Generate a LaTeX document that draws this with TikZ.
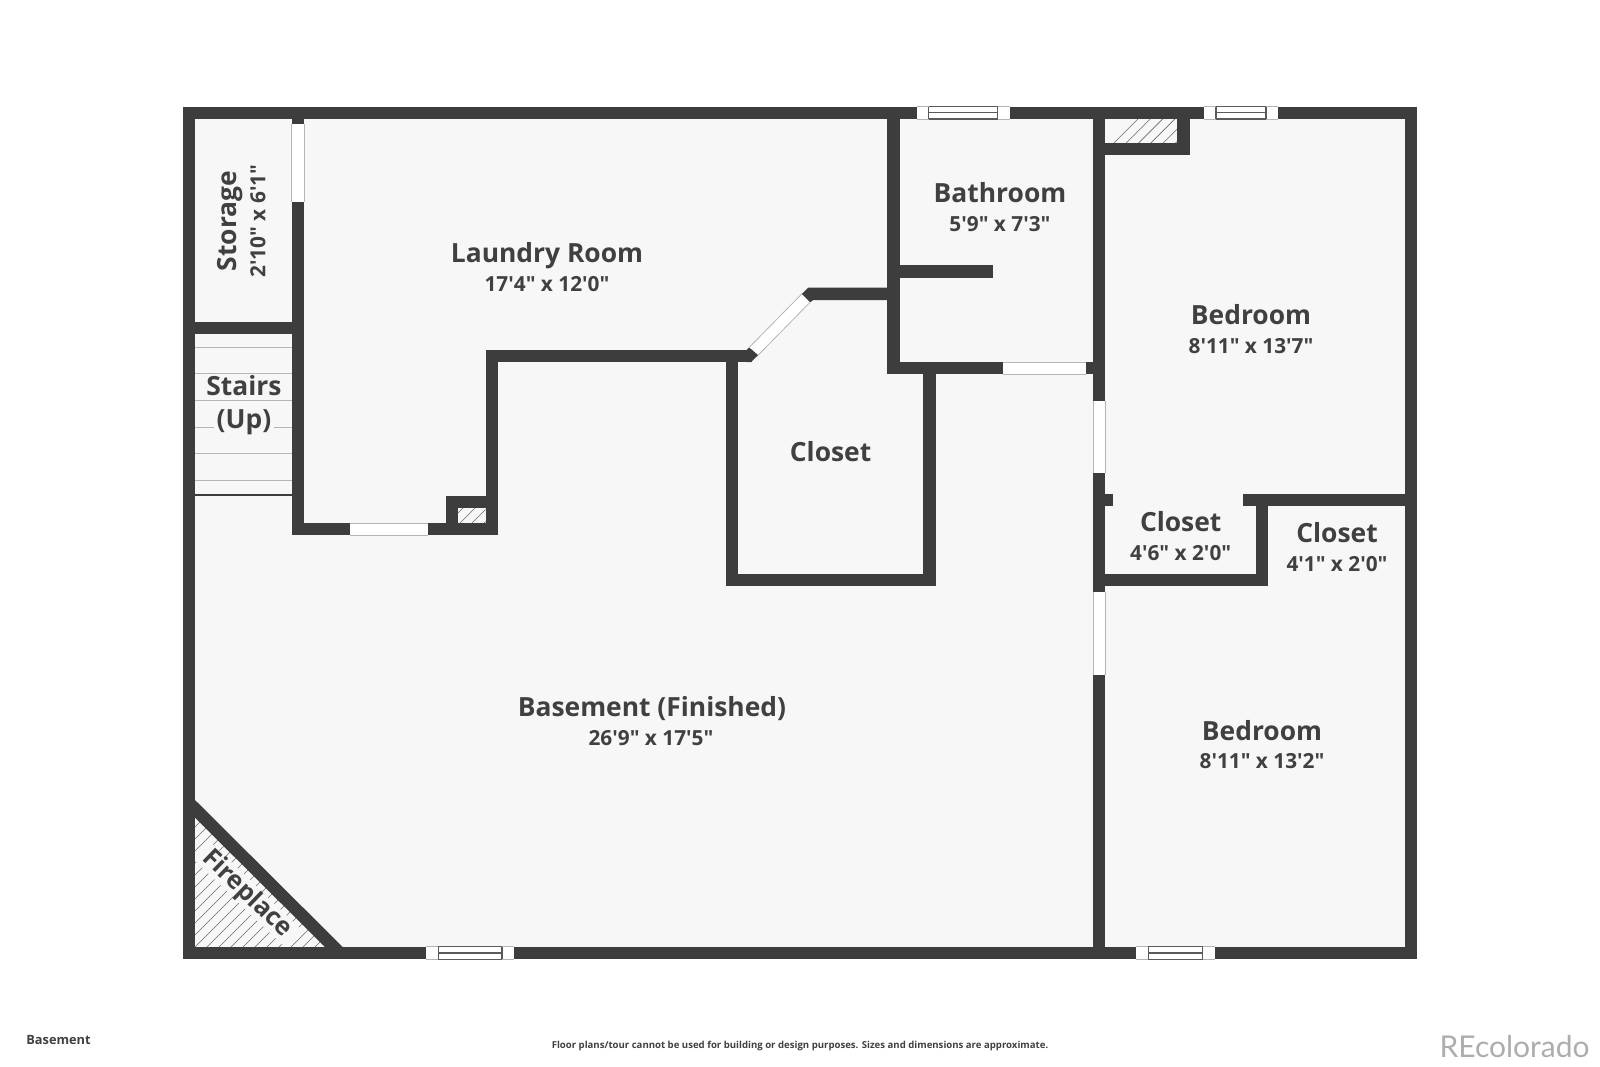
\documentclass[tikz,border=0pt]{standalone}
\usepackage{fontspec}
\newfontfamily\ofont{Open Sans}
\newfontfamily\lfont{Lato}
\definecolor{wallc}{HTML}{3D3D3D}
\definecolor{floorc}{HTML}{F7F7F7}
\definecolor{textc}{HTML}{404040}
\definecolor{edgec}{HTML}{B5B5B5}
\definecolor{hatchc}{HTML}{6A6A6A}
\tikzset{
  roomname/.style={text=textc,inner sep=0pt,font=\ofont\bfseries\fontsize{13.2}{15}\selectfont},
  roomdim/.style={text=textc,inner sep=0pt,font=\ofont\bfseries\fontsize{10.4}{12}\selectfont},
  firename/.style={text=textc,inner sep=0pt,font=\ofont\bfseries\fontsize{12.6}{15}\selectfont,rotate=-44},
  stairline/.style={draw=edgec,line width=0.4pt},
  hatchline/.style={draw=hatchc,line width=0.3pt},
  winline/.style={draw=wallc!85,line width=0.6pt},
  dooredge/.style={draw=edgec,line width=0.4pt},
  halo/.style={fill=floorc,inner xsep=1.2pt,inner ysep=0.6pt}
}
\newcommand{\wallrect}[4]{\fill[wallc] (#1,#2) rectangle (#3,#4);}
% horizontal door: x1 x2 y1 y2
\newcommand{\doorh}[4]{\fill[white] (#1,#3) rectangle (#2,#4);
  \draw[dooredge] (#1,#3) -- (#2,#3) (#1,#4) -- (#2,#4);}
\newcommand{\doorv}[4]{\fill[white] (#1,#3) rectangle (#2,#4);
  \draw[dooredge] (#1,#3) -- (#1,#4) (#2,#3) -- (#2,#4);}
% window: x1 x2 inner1 inner2 y1 y2
\newcommand{\winh}[6]{\fill[white] (#1,#5) rectangle (#2,#6);
  \draw[winline] (#3,#5) -- (#3,#6) (#4,#5) -- (#4,#6) (#3,#5) -- (#4,#5) (#3,#6) -- (#4,#6);
  \draw[winline] (#3,{(#5+#6)/2}) -- (#4,{(#5+#6)/2});
  \draw[dooredge] (#1,#5) -- (#3,#5) (#1,#6) -- (#3,#6) (#4,#5) -- (#2,#5) (#4,#6) -- (#2,#6);}
\begin{document}
\begin{tikzpicture}[x=0.5pt,y=-0.5pt]
\useasboundingbox[fill=white] (0,0) rectangle (1600,1066);
% floor
\fill[floorc] (183,107) rectangle (1417,959);
% hatching
\begin{scope}
  \clip (195,817.7) -- (195,947) -- (325,947) -- cycle;
  \foreach \k in {820,832,...,1150} {\draw[hatchline] (190,\k) -- ++(150,-150);}
\end{scope}
\begin{scope}
  \clip (458,507.7) rectangle (485.7,523);
  \foreach \k in {516,528,...,552} {\draw[hatchline] (455,\k) -- ++(40,-40);}
\end{scope}
\begin{scope}
  \clip (1105.3,119) rectangle (1177.3,143);
  \foreach \k in {1112,1124.3,...,1210} {\draw[hatchline] (\k,145) -- ++(30,-30);}
\end{scope}
% gap in the hatching round the fireplace label, under the walls
\fill[floorc,rotate around={-44:(247,894)}] (182,882) rectangle (312,906);
% stairs
\foreach \y in {347.3,373.3,400.3,427,453.7,480.3} {\draw[stairline] (195,\y) -- (292,\y);}
\draw[wallc,line width=1pt] (195,495) -- (292,495);
% outer walls
\wallrect{182.7}{106.7}{1417}{119}
\wallrect{182.7}{106.7}{195.3}{959.2}
\wallrect{182.7}{946.7}{1417}{959.2}
\wallrect{1405}{106.7}{1417}{959.2}
% storage and laundry walls
\wallrect{291.7}{106.7}{304}{535}
\wallrect{182.7}{322}{304}{334.3}
\wallrect{291.7}{523}{498}{535}
\wallrect{446}{495.7}{458}{535}
\wallrect{446}{495.7}{498}{507.7}
\wallrect{485.7}{350}{498}{535}
\wallrect{485.7}{350}{752}{362}
% closet centre
\wallrect{725.5}{350}{737.7}{586}
\wallrect{725.5}{574.3}{935.5}{586}
\wallrect{923.2}{362}{935.5}{586}
% diagonal door with stubs
\fill[wallc] (746.7,350) -- (749.3,347.3) -- (758.3,355) -- (751,362) -- (746.7,362) -- cycle;
\fill[wallc] (801.7,294) -- (808.3,287.7) -- (893,287.7) -- (893,300) -- (813.3,300) -- (810,302.3) -- cycle;
\fill[white] (749.3,347.3) -- (758.3,355) -- (810,302.3) -- (801.7,294) -- cycle;
\draw[dooredge] (749.3,347.3) -- (801.7,294) (758.3,355) -- (810,302.3);
% bathroom
\wallrect{887.3}{106.7}{899.7}{374.3}
\wallrect{887.3}{362}{1099}{374.3}
\wallrect{893}{265.4}{993.3}{277.7}
\wallrect{1093}{106.7}{1105.3}{959.2}
% hatched box top right
\wallrect{1177.3}{106.7}{1189.7}{155.3}
\wallrect{1093}{143}{1189.7}{155.3}
% bedroom closets
\wallrect{1093}{493.7}{1113.3}{505.7}
\wallrect{1242.7}{493.7}{1417}{505.7}
\wallrect{1255.7}{493.7}{1268}{586.3}
\wallrect{1093}{574}{1268}{586.3}
% doors
\doorv{291.7}{304}{124.3}{202.3}
\doorh{350.3}{428}{523}{535}
\doorh{1003.3}{1085.7}{362}{374.3}
\doorv{1093}{1105.3}{400.7}{473.3}
\doorv{1093}{1105.3}{592.3}{675}
% windows
\winh{916.7}{1010}{928.7}{997.7}{106.7}{119}
\winh{1204}{1278.3}{1216}{1266}{106.7}{119}
\winh{426}{514}{438.3}{502}{946.7}{959.2}
\winh{1136.3}{1215.3}{1148.3}{1202.7}{946.7}{959.2}
% fireplace
\fill[wallc] (195,800) -- (342.7,947) -- (325,947) -- (195,817.7) -- cycle;
% labels
\node[roomname] (laundry) at (547,256) {Laundry Room};
\node[roomdim] (laundryd) at (547,284) {17'4" x 12'0"};
\node[roomname] (bath) at (1000,193) {Bathroom};
\node[roomdim] (bathd) at (1000,224.5) {5'9" x 7'3"};
\node[roomname] (bed1) at (1251,315) {Bedroom};
\node[roomdim] (bed1d) at (1251,346) {8'11" x 13'7"};
\node[roomname,halo] (stairs) at (244,386) {Stairs};
\node[roomname,halo] (up) at (244,422.5) {(Up)};
\node[roomname] (closetc) at (830.6,452) {Closet};
\node[roomname] (closetb) at (1180.7,521.4) {Closet};
\node[roomdim] (closetbd) at (1180.7,553.3) {4'6" x 2'0"};
\node[roomname] (closetd) at (1337,533) {Closet};
\node[roomdim] (closetdd) at (1337,564.5) {4'1" x 2'0"};
\node[roomname] (base) at (652,709) {Basement (Finished)};
\node[roomdim] (based) at (651,738) {26'9" x 17'5"};
\node[roomname] (bed2) at (1262,730.6) {Bedroom};
\node[roomdim] (bed2d) at (1262,761) {8'11" x 13'2"};
\node[roomname,rotate=90] (storage) at (230,221) {Storage};
\node[roomdim,rotate=90] (storaged) at (258,221) {2'10" x 6'1"};
\node[firename] (fire) at (247,894) {Fireplace};
\node[text=textc,inner sep=0pt,font=\ofont\bfseries\fontsize{6.4}{8}\selectfont] (floorname) at (58.5,1040) {Basement};
\node[text=textc,inner sep=0pt,font=\ofont\bfseries\fontsize{4.8}{6}\selectfont] (note) at (800,1045.5) {Floor plans/tour cannot be used for building or design purposes. Sizes and dimensions are approximate.};
\node[text=black!32,inner sep=0pt,font=\lfont\fontsize{15}{17}\selectfont] (brand) at (1514.5,1047) {REcolorado};
\end{tikzpicture}
\end{document}
